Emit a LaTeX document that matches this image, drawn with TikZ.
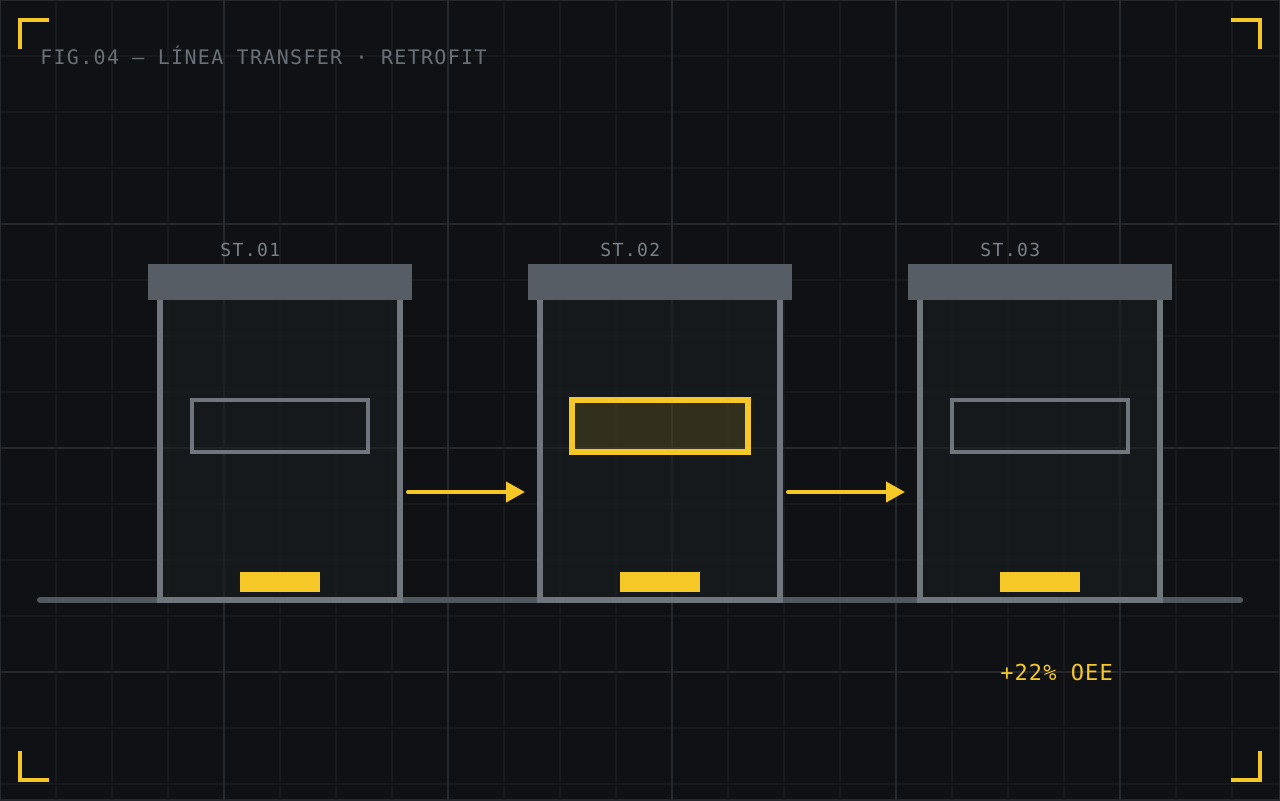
\documentclass[tikz,border=0pt]{standalone}
\usepackage{fontspec}
\usetikzlibrary{arrows.meta}
\newfontfamily\titlefont[LetterSpace=6.6]{DejaVu Sans Mono}
\newfontfamily\labelfont[LetterSpace=8]{DejaVu Sans Mono}
\newfontfamily\kpifont[LetterSpace=5]{DejaVu Sans Mono}
\definecolor{bg}{HTML}{0F1115}
\definecolor{gridminor}{HTML}{17191D}
\definecolor{gridmajor}{HTML}{25282C}
\definecolor{bodyfill}{HTML}{1C2022}
\definecolor{post}{HTML}{70767D}
\definecolor{capcol}{HTML}{565D65}
\definecolor{floorcol}{HTML}{52585F}
\definecolor{titlegray}{HTML}{6A7078}
\definecolor{labelgray}{HTML}{7A8088}
\definecolor{accent}{HTML}{F5C828}
\begin{document}
\begin{tikzpicture}[x=0.75pt,y=-0.75pt,
  body/.style={rectangle, inner sep=0pt, outer sep=0pt, minimum width=180pt, minimum height=225pt, fill=bodyfill, fill opacity=0.55},
  frame/.style={draw=post, line width=4.5pt, line join=miter},
  capbox/.style={rectangle, inner sep=0pt, outer sep=0pt, minimum width=198pt, minimum height=27pt, fill=capcol},
  panel/.style={rectangle, inner sep=0pt, outer sep=0pt, minimum width=132pt, minimum height=39pt, draw=post, line width=3pt},
  hotpanel/.style={rectangle, inner sep=0pt, outer sep=0pt, minimum width=132pt, minimum height=39pt, draw=accent, line width=4.5pt, fill=accent, fill opacity=0.13, draw opacity=1},
  bar/.style={rectangle, inner sep=0pt, outer sep=0pt, minimum width=60pt, minimum height=15pt, fill=accent},
  stlabel/.style={anchor=base west, inner sep=0pt, text=labelgray, font=\labelfont\fontsize{13.5pt}{16pt}\selectfont},
  flow/.style={draw=accent, line width=3pt, line cap=round, -{Triangle[length=14.25pt,width=15pt]}},
  corner/.style={draw=accent, line width=2.8pt, line join=miter}
]
\useasboundingbox (0,0) rectangle (1280,800);
\fill[bg] (0,0) rectangle (1280,800);
% grid
\foreach \x in {56,112,...,1232} \draw[gridminor, line width=0.9pt] (\x,0) -- (\x,800);
\foreach \y in {56,112,...,784} \draw[gridminor, line width=0.9pt] (0,\y) -- (1280,\y);
\foreach \x in {224,448,672,896,1120} \draw[gridmajor, line width=1.1pt] (\x,0) -- (\x,800);
\foreach \y in {224,448,672} \draw[gridmajor, line width=1.1pt] (0,\y) -- (1280,\y);
\draw[gridmajor, line width=1.5pt] (0,0) rectangle (1280,800);
% corners
\coordinate (c1a) at (20,49); \coordinate (c1b) at (20,20); \coordinate (c1c) at (49,20);
\coordinate (c2a) at (1231,20); \coordinate (c2b) at (1260,20); \coordinate (c2c) at (1260,49);
\coordinate (c3a) at (20,751); \coordinate (c3b) at (20,780); \coordinate (c3c) at (49,780);
\coordinate (c4a) at (1231,780); \coordinate (c4b) at (1260,780); \coordinate (c4c) at (1260,751);
\draw[corner] (c1a) -- (c1b) -- (c1c);
\draw[corner] (c2a) -- (c2b) -- (c2c);
\draw[corner] (c3a) -- (c3b) -- (c3c);
\draw[corner] (c4a) -- (c4b) -- (c4c);
% title
\node[anchor=base west, inner sep=0pt, text=titlegray, font=\titlefont\fontsize{15pt}{18pt}\selectfont] (title) at (40,64) {FIG.04 — LÍNEA TRANSFER · RETROFIT};
% floor
\coordinate (fl) at (40,600); \coordinate (fr) at (1240,600);
\draw[floorcol, line width=4.5pt, line cap=round] (fl) -- (fr);
% stations
\foreach \i/\cx in {1/280,2/660,3/1040}{
  \node[body] (b\i) at (\cx,450) {};
  \draw[frame] (b\i.north west) -- (b\i.south west) -- (b\i.south east) -- (b\i.north east);
  \node[capbox] (cap\i) at (\cx,282) {};
  \node[bar] (bar\i) at (\cx,582) {};
  \node[stlabel] (lab\i) at (\cx-60,256) {ST.0\i};
}
\node[panel] (p1) at (280,426) {};
\node[hotpanel] (p2) at (660,426) {};
\node[panel] (p3) at (1040,426) {};
% flow arrows
\coordinate (a1s) at (408,492); \coordinate (a1e) at (525,492);
\coordinate (a2s) at (788,492); \coordinate (a2e) at (905,492);
\draw[flow] (a1s) -- (a1e);
\draw[flow] (a2s) -- (a2e);
% KPI
\node[anchor=base west, inner sep=0pt, text=accent, font=\kpifont\fontsize{16.5pt}{20pt}\selectfont] (kpi) at (1000,680) {+22\% OEE};
\end{tikzpicture}
\end{document}
